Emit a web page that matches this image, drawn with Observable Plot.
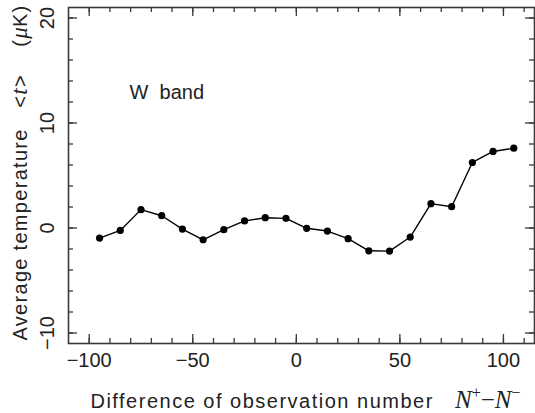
<!DOCTYPE html>
<html><head><meta charset="utf-8">
<script src="https://cdn.jsdelivr.net/npm/d3@7"></script>
<script src="https://cdn.jsdelivr.net/npm/@observablehq/plot@0.6"></script>
<style>body{margin:0;background:#fff}</style>
</head><body><div id="chart"></div>
<script>
const diffN = [-95,-85,-75,-65,-55,-45,-35,-25,-15,-5,5,15,25,35,45,55,65,75,85,95,105];
const avgT = [-0.96,-0.23,1.75,1.17,-0.1,-1.12,-0.16,0.67,0.98,0.92,-0.03,-0.29,-1.02,-2.17,-2.2,-0.86,2.32,2.03,6.24,7.29,7.6];
const xMajor = [-100,-50,0,50,100];
const xMinor = [-100,-90,-80,-70,-60,-50,-40,-30,-20,-10,0,10,20,30,40,50,60,70,80,90,100,110];
const yMajor = [-10,0,10,20];
const yMinor = [-10,-8,-6,-4,-2,0,2,4,6,8,10,12,14,16,18,20];
const bandLabel = ["W\u00a0\u00a0band"];
const yTitle = ["YTITLE"];
const xTitle = ["XTITLE"];

const W = 535, H = 413, mL = 68, mR = 1, mT = 7, mB = 70;
const pw = W - mL - mR, ph = H - mT - mB;
const fmt = d => d < 0 ? "\u2212" + Math.abs(d) : String(d);
const ink = "#3a3a3a";
const font = "'Liberation Sans', Arial, sans-serif";

const chart = Plot.plot({
  width: W, height: H,
  marginLeft: mL, marginRight: mR, marginTop: mT, marginBottom: mB,
  x: {domain: [-110, 115], axis: null},
  y: {domain: [-11, 21], axis: null},
  style: {fontFamily: font, fontSize: "20px", color: "#222", background: "#fff"},
  marks: [
    Plot.tickX(xMinor, {x: d => d, insetTop: ph - 5, stroke: ink, strokeWidth: 1.3}),
    Plot.tickX(xMinor, {x: d => d, insetBottom: ph - 5, stroke: ink, strokeWidth: 1.3}),
    Plot.tickX(xMajor, {x: d => d, insetTop: ph - 9, stroke: ink, strokeWidth: 1.3}),
    Plot.tickX(xMajor, {x: d => d, insetBottom: ph - 9, stroke: ink, strokeWidth: 1.3}),
    Plot.tickY(yMinor, {y: d => d, insetRight: pw - 5, stroke: ink, strokeWidth: 1.3}),
    Plot.tickY(yMinor, {y: d => d, insetLeft: pw - 5, stroke: ink, strokeWidth: 1.3}),
    Plot.tickY(yMajor, {y: d => d, insetRight: pw - 9, stroke: ink, strokeWidth: 1.3}),
    Plot.tickY(yMajor, {y: d => d, insetLeft: pw - 9, stroke: ink, strokeWidth: 1.3}),
    Plot.frame({stroke: ink, strokeWidth: 1.6}),
    Plot.line(diffN, {x: d => d, y: (d, i) => avgT[i], stroke: "#000", strokeWidth: 1.4}),
    Plot.dot(diffN, {x: d => d, y: (d, i) => avgT[i], r: 3.6, fill: "#000"}),
    Plot.text(bandLabel, {x: -80.5, y: 12.9, text: d => d, textAnchor: "start", lineAnchor: "middle", fontSize: 20, fill: "#222", letterSpacing: 0.6}),
    Plot.text(xMajor, {x: d => d, frameAnchor: "bottom", dy: 17, text: fmt, textAnchor: "middle", lineAnchor: "middle", fontSize: 20, fill: "#222", letterSpacing: 0.5}),
    Plot.text(yMajor, {y: d => d, frameAnchor: "left", dx: -21, rotate: -90, text: fmt, textAnchor: "middle", lineAnchor: "middle", fontSize: 20, fill: "#222", letterSpacing: 0.5}),
    Plot.text(yTitle, {frameAnchor: "left", dx: -48, dy: -3, rotate: -90, text: d => d, textAnchor: "middle", lineAnchor: "middle", fontSize: 20, fill: "#222"}),
    Plot.text(xTitle, {frameAnchor: "bottom", dy: 58, dx: 4, text: d => d, textAnchor: "middle", lineAnchor: "middle", fontSize: 20, fill: "#222"})
  ]
});

const NS = "http://www.w3.org/2000/svg";
function span(parent, txt, attrs) {
  const s = document.createElementNS(NS, "tspan");
  s.textContent = txt;
  for (const k in attrs) s.setAttribute(k, attrs[k]);
  parent.appendChild(s);
  return s;
}
const serif = "'Liberation Serif', 'DejaVu Serif', serif";
chart.querySelectorAll("text").forEach(t => {
  if (t.textContent === "YTITLE") {
    t.textContent = "";
    span(t, "Average temperature\u00a0\u00a0\u00a0<", {"letter-spacing": 1.3});
    span(t, "t", {"font-family": serif, "font-style": "italic", "font-size": 23, "letter-spacing": 1.3});
    span(t, ">\u00a0\u00a0\u00a0\u00a0(", {"letter-spacing": 1.3});
    span(t, "\u03bc", {"font-family": serif, "font-style": "italic", "font-size": 23});
    span(t, "K)", {"letter-spacing": 1.3});
  } else if (t.textContent === "XTITLE") {
    t.textContent = "";
    span(t, "Difference of observation number\u00a0\u00a0\u00a0", {"letter-spacing": 1.5});
    span(t, "N", {"font-family": serif, "font-style": "italic", "font-size": 25});
    span(t, "+", {"font-family": serif, "font-size": 16, "dy": -10});
    span(t, "\u2212", {"font-family": serif, "font-size": 25, "dy": 10});
    span(t, "N", {"font-family": serif, "font-style": "italic", "font-size": 25});
    span(t, "\u2212", {"font-family": serif, "font-size": 16, "dy": -10});
  }
});
document.getElementById("chart").appendChild(chart);
</script>
</body></html>
